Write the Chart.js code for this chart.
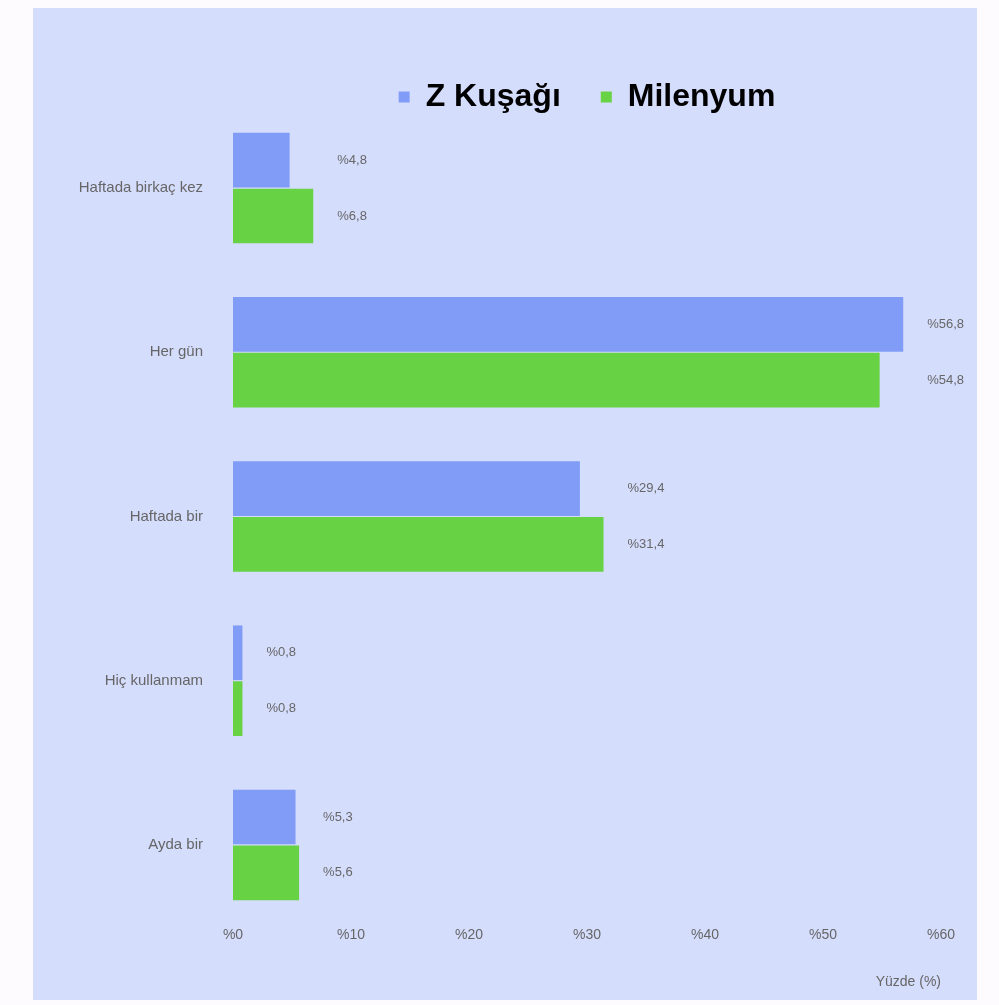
<!DOCTYPE html>
<html><head><meta charset="utf-8">
<script src="https://cdn.jsdelivr.net/npm/chart.js@4"></script>
<style>
html,body{margin:0;padding:0;background:#fdfbfd;}
#wrap{position:absolute;left:33px;top:8px;width:944px;height:992px;background:#d5ddfd;overflow:hidden;}
canvas{display:block;}
</style></head><body>
<div id="wrap"><canvas id="c" width="944" height="992"></canvas></div>
<script>
const categories = ["Haftada birkaç kez", "Her gün", "Haftada bir", "Hiç kullanmam", "Ayda bir"];
const seriesNames = ["Z Kuşağı", "Milenyum"];
const genZ = [4.8, 56.8, 29.4, 0.8, 5.3];
const millennial = [6.8, 54.8, 31.4, 0.8, 5.6];
const xTickValues = [0, 10, 20, 30, 40, 50, 60];
const xTickLabels = ["%0", "%10", "%20", "%30", "%40", "%50", "%60"];
const axisTitle = "Yüzde (%)";

const fmt = v => "%" + v.toFixed(1).replace(".", ",");

const noLegendClip = {
  id: "noLegendClip",
  beforeDraw(chart) {
    const lg = chart.legend;
    if (lg && !lg._noClip) {
      lg.draw = function () { if (this.options.display) this._draw(); };
      lg._noClip = true;
    }
  }
};

const valueLabels = {
  id: "valueLabels",
  afterDatasetsDraw(chart) {
    const ctx = chart.ctx;
    const m0 = chart.getDatasetMeta(0), m1 = chart.getDatasetMeta(1);
    ctx.save();
    ctx.font = "13px 'Liberation Sans', Arial, sans-serif";
    ctx.fillStyle = "#666";
    ctx.textAlign = "left";
    ctx.textBaseline = "middle";
    categories.forEach((c, i) => {
      const a = m0.data[i], b = m1.data[i];
      const x = Math.max(a.x, b.x) + 24;
      ctx.fillText(fmt(genZ[i]), x, a.y);
      ctx.fillText(fmt(millennial[i]), x, b.y);
    });
    ctx.restore();
  }
};

new Chart(document.getElementById("c"), {
  type: "bar",
  data: {
    labels: categories,
    datasets: [
      { label: seriesNames[0], data: genZ, backgroundColor: "rgb(128,156,246)", borderWidth: 0 },
      { label: seriesNames[1], data: millennial, backgroundColor: "rgb(102,210,68)", borderWidth: 0 }
    ]
  },
  options: {
    indexAxis: "y",
    responsive: false,
    animation: false,
    categoryPercentage: 0.68,
    barPercentage: 0.98,
    layout: { padding: { top: 33, right: 36, left: 0, bottom: 0 } },
    plugins: {
      tooltip: { enabled: false },
      legend: {
        position: "top",
        fullSize: false,
        maxHeight: 65,
        labels: {
          boxWidth: 11, boxHeight: 11, padding: 40,
          color: "#000",
          font: { family: "'Liberation Sans', Arial, sans-serif", size: 32, weight: "bold" }
        }
      }
    },
    scales: {
      x: {
        min: xTickValues[0], max: xTickValues[xTickValues.length - 1],
        grid: { display: false, drawTicks: false },
        border: { display: false },
        ticks: {
          stepSize: 10, padding: 0, color: "#666",
          font: { family: "'Liberation Sans', Arial, sans-serif", size: 14 },
          callback: (v) => xTickLabels[xTickValues.indexOf(v)]
        },
        title: {
          display: true, text: axisTitle, align: "end", color: "#666",
          font: { family: "'Liberation Sans', Arial, sans-serif", size: 14 },
          padding: { top: 0, bottom: 9 }
        },
        afterFit(scale) { scale.height = 73; }
      },
      y: {
        grid: { display: false, drawTicks: false },
        border: { display: false },
        ticks: {
          padding: 30, color: "#666",
          font: { family: "'Liberation Sans', Arial, sans-serif", size: 15 }
        },
        afterFit(scale) { scale.width = 200; }
      }
    }
  },
  plugins: [noLegendClip, valueLabels]
});
</script>
</body></html>
